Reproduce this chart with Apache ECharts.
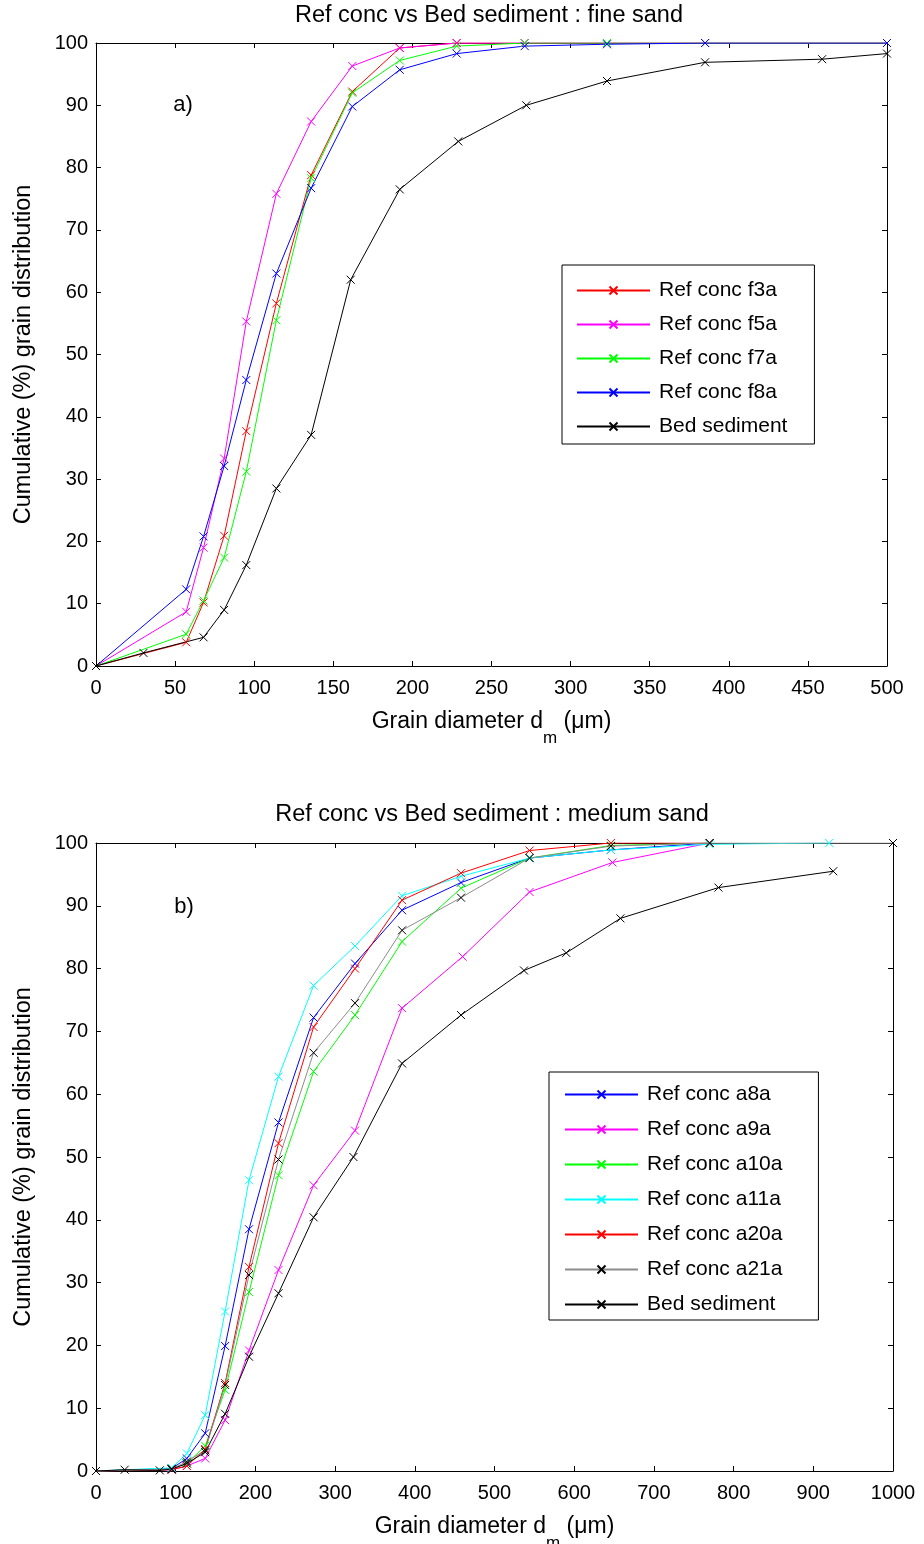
<!DOCTYPE html>
<html>
<head>
<meta charset="utf-8">
<script src="https://cdn.jsdelivr.net/npm/echarts@6/dist/echarts.min.js"></script>
<style>
  html, body { margin: 0; padding: 0; background: #fff; }
  #chart { width: 924px; height: 1544px; }
</style>
</head>
<body>
<div id="chart"></div>
<script>
// ---- Panel a) fine sand: grain diameter (um) and cumulative (%) ----
const fineSieve = [0, 57, 68, 81, 95, 114, 136, 162, 192, 228, 271, 323, 385, 500];
const f3aCum = [0, 3.8, 10.2, 20.9, 37.7, 58.2, 78.8, 92.2, 99.2, 100, 100, 100, 100, 100];
const f5aCum = [0, 8.7, 19.0, 33.3, 55.3, 75.8, 87.4, 96.3, 99.2, 100, 100, 100, 100, 100];
const f7aCum = [0, 5.1, 10.5, 17.4, 31.2, 55.5, 78.3, 92.0, 97.2, 99.5, 100, 100, 100, 100];
const f8aCum = [0, 12.3, 20.8, 32.1, 45.9, 63.0, 76.7, 89.8, 95.7, 98.3, 99.5, 99.8, 100, 100];
const bedFineDiam = [0, 30, 68, 81, 95, 114, 136, 161, 192, 229, 272, 323, 385, 459, 500];
const bedFineCum = [0, 2.1, 4.6, 9.0, 16.2, 28.5, 37.1, 62.0, 76.5, 84.2, 90.0, 93.9, 96.9, 97.4, 98.3];

// ---- Panel b) medium sand ----
const medSieve = [0, 95, 114, 137, 162, 192, 229, 273, 325, 384, 458, 544, 646, 770];
const a8aCum = [0, 0.4, 2.0, 6.0, 19.9, 38.5, 55.5, 72.2, 80.8, 89.3, 93.7, 97.6, 98.9, 100];
const a9aDiam = [0, 95, 114, 137, 162, 192, 229, 273, 325, 384, 460, 544, 648, 770];
const a9aCum = [0, 0.2, 0.8, 2.0, 8.1, 19.2, 32.0, 45.5, 54.2, 73.7, 81.9, 92.2, 96.9, 100];
const a10aCum = [0, 0.3, 1.2, 4.0, 12.9, 28.5, 47.1, 63.6, 72.6, 84.3, 92.8, 97.6, 99.6, 100];
const a11aDiam = [0, 95, 114, 137, 162, 192, 229, 273, 325, 384, 458, 544, 646, 770, 920];
const a11aCum = [0, 0.5, 2.8, 8.9, 25.4, 46.3, 62.8, 77.3, 83.6, 91.6, 94.7, 97.6, 98.9, 99.8, 100];
const a20aCum = [0, 0.2, 0.8, 3.5, 14.0, 32.5, 52.2, 70.7, 80.0, 90.9, 95.2, 98.8, 100, 100];
const a21aDiam = [0, 95, 114, 137, 162, 192, 229, 273, 325, 384, 458, 544, 646, 770, 1000];
const a21aCum = [0, 0.3, 1.5, 3.3, 13.7, 31.2, 49.6, 66.6, 74.5, 86.1, 91.3, 97.6, 99.5, 100, 100];
const bedMedDiam = [0, 36, 80, 95, 114, 137, 162, 192, 229, 273, 323, 384, 458, 537, 590, 658, 781, 925];
const bedMedCum = [0, 0.2, 0.1, 0.3, 1.2, 3.0, 9.1, 18.2, 28.3, 40.4, 50.0, 64.9, 72.6, 79.7, 82.5, 88.0, 92.9, 95.5];

// axis ticks
const fineTicks = { min: 0, max: 500, interval: 50 };
const medTicks = { min: 0, max: 1000, interval: 100 };
const cumTicks = { min: 0, max: 100, interval: 10 };

const FONT = 'Liberation Sans, Arial, sans-serif';
const CROSS = 'path://M0,0L10,10M10,0L0,10';

function zip(xs, ys) { return xs.map((x, i) => [x, ys[i]]); }

function curve(name, xs, ys, lineColor, markColor, grid) {
  return {
    type: 'line', name: name,
    xAxisIndex: grid * 2, yAxisIndex: grid * 2,
    data: zip(xs, ys),
    symbol: CROSS, symbolSize: 8,
    showAllSymbol: true,
    lineStyle: { color: lineColor, width: 1 },
    itemStyle: { color: markColor, borderColor: markColor, borderWidth: 1 },
    emphasis: { disabled: true },
    animation: false
  };
}

function xAxes(grid, ticks) {
  const base = {
    type: 'value', gridIndex: grid, min: ticks.min, max: ticks.max, interval: ticks.interval,
    splitLine: { show: false },
    axisLine: { onZero: false, lineStyle: { color: '#000', width: 1 } },
    axisTick: { inside: true, length: 5, lineStyle: { color: '#000' } }
  };
  return [
    Object.assign({}, base, {
      position: 'bottom',
      axisLabel: { color: '#000', fontSize: 20, fontFamily: FONT, margin: 12, formatter: v => String(v) },
      name: 'Grain diameter d{sub|m} ({mu|\u03bc}m)',
      nameLocation: 'middle', nameGap: 44,
      nameTextStyle: {
        color: '#000', fontSize: 23, fontFamily: FONT,
        rich: {
          sub: { fontSize: 17, fontFamily: FONT, color: '#000', verticalAlign: 'bottom', padding: [0, 0, -14, 0] },
          mu: { fontSize: 23, fontFamily: FONT, color: '#000' }
        }
      }
    }),
    Object.assign({}, base, { position: 'top', axisLabel: { show: false } })
  ];
}

function yAxes(grid) {
  const base = {
    type: 'value', gridIndex: grid, min: cumTicks.min, max: cumTicks.max, interval: cumTicks.interval,
    splitLine: { show: false },
    axisLine: { onZero: false, lineStyle: { color: '#000', width: 1 } },
    axisTick: { inside: true, length: 5, lineStyle: { color: '#000' } }
  };
  return [
    Object.assign({}, base, {
      position: 'left',
      axisLabel: { color: '#000', fontSize: 20, fontFamily: FONT, margin: 8 },
      name: 'Cumulative (%) grain distribution',
      nameLocation: 'middle', nameGap: 60, nameRotate: 90,
      nameTextStyle: { color: '#000', fontSize: 23.5, fontFamily: FONT }
    }),
    Object.assign({}, base, { position: 'right', axisLabel: { show: false } })
  ];
}

function legendBox(left, top, names, gap, padding) {
  return {
    orient: 'vertical', left: left, top: top,
    data: names,
    itemWidth: 73, itemHeight: 10, itemGap: gap,
    padding: padding,
    borderColor: '#000', borderWidth: 1,
    backgroundColor: '#fff',
    selectedMode: false,
    textStyle: { color: '#000', fontSize: 21, lineHeight: 20, fontFamily: FONT, padding: [0, 0, 0, 4] }
  };
}

function label(text, x, y, size) {
  return {
    type: 'text', x: x, y: y, silent: true,
    style: { text: text, fill: '#000', font: size + 'px ' + FONT, textAlign: 'center', textVerticalAlign: 'middle' }
  };
}

const option = {
  backgroundColor: '#fff',
  animation: false,
  grid: [
    { left: 96, top: 43, width: 791, height: 623, outerBoundsMode: 'none' },
    { left: 96, top: 843, width: 797, height: 628, outerBoundsMode: 'none' }
  ],
  xAxis: [].concat(xAxes(0, fineTicks), xAxes(1, medTicks)),
  yAxis: [].concat(yAxes(0), yAxes(1)),
  legend: [
    legendBox(562, 265, ['Ref conc f3a', 'Ref conc f5a', 'Ref conc f7a', 'Ref conc f8a', 'Bed sediment'], 13, [15, 27, 7, 14]),
    legendBox(549, 1072, ['Ref conc a8a', 'Ref conc a9a', 'Ref conc a10a', 'Ref conc a11a', 'Ref conc a20a', 'Ref conc a21a', 'Bed sediment'], 14, [12, 36, 5, 15])
  ],
  graphic: [
    label('Ref conc vs Bed sediment : fine sand', 489, 16, 23.5),
    label('Ref conc vs Bed sediment : medium sand', 492, 815, 23.5),
    label('a)', 183, 105, 22),
    label('b)', 184, 907, 22)
  ],
  series: [
    curve('Ref conc f3a', fineSieve, f3aCum, '#ff0000', '#ff0000', 0),
    curve('Ref conc f5a', fineSieve, f5aCum, '#ff00ff', '#ff00ff', 0),
    curve('Ref conc f7a', fineSieve, f7aCum, '#00ff00', '#00ff00', 0),
    curve('Ref conc f8a', fineSieve, f8aCum, '#0000ff', '#0000ff', 0),
    curve('Bed sediment', bedFineDiam, bedFineCum, '#000000', '#000000', 0),

    curve('Ref conc a8a', medSieve, a8aCum, '#0000ff', '#0000ff', 1),
    curve('Ref conc a9a', a9aDiam, a9aCum, '#ff00ff', '#ff00ff', 1),
    curve('Ref conc a10a', medSieve, a10aCum, '#00ff00', '#00ff00', 1),
    curve('Ref conc a11a', a11aDiam, a11aCum, '#00ffff', '#00ffff', 1),
    curve('Ref conc a20a', medSieve, a20aCum, '#ff0000', '#ff0000', 1),
    curve('Ref conc a21a', a21aDiam, a21aCum, '#8c8c8c', '#000000', 1),
    curve('Bed sediment', bedMedDiam, bedMedCum, '#000000', '#000000', 1)
  ]
};

const chart = echarts.init(document.getElementById('chart'), null, { renderer: 'canvas' });
chart.setOption(option);
</script>
</body>
</html>
